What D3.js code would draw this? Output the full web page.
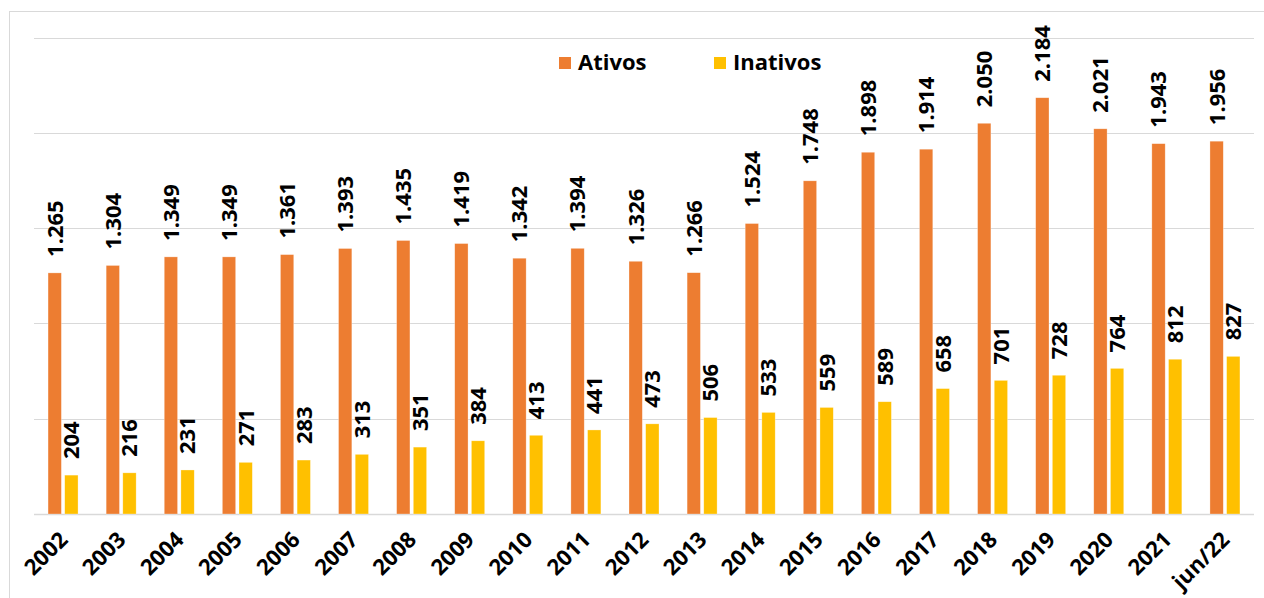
<!DOCTYPE html>
<html>
<head>
<meta charset="utf-8">
<script src="https://cdn.jsdelivr.net/npm/d3@7"></script>
<style>
  body { margin: 0; background: #fff; }
  svg { display: block; font-family: "Open Sans", "Noto Sans", sans-serif; }
</style>
</head>
<body>
<svg></svg>
<script>
const categories = ["2002", "2003", "2004", "2005", "2006", "2007", "2008", "2009", "2010", "2011",
    "2012", "2013", "2014", "2015", "2016", "2017", "2018", "2019", "2020", "2021", "jun/22"];
const ativos = [1265, 1304, 1349, 1349, 1361, 1393, 1435, 1419, 1342, 1394,
    1326, 1266, 1524, 1748, 1898, 1914, 2050, 2184, 2021, 1943, 1956];
const inativos = [204, 216, 231, 271, 283, 313, 351, 384, 413, 441,
    473, 506, 533, 559, 589, 658, 701, 728, 764, 812, 827];
const seriesNames = ["Ativos", "Inativos"];
const yTicks = [0, 500, 1000, 1500, 2000, 2500];

const width = 1264;
const height = 598;
const colors = { Ativos: "#ED7D31", Inativos: "#FFC000" };

const svg = d3.select("svg")
    .attr("width", width)
    .attr("height", height);

// chart area border (only left and top visible in the picture)
svg.append("rect")
    .attr("x", 9.5).attr("y", 11.5)
    .attr("width", width).attr("height", height)
    .attr("fill", "none")
    .attr("stroke", "#d9d9d9");

const x = d3.scaleBand()
    .domain(categories)
    .range([34, 1254]);

const y = d3.scaleLinear()
    .domain([0, 2500])
    .range([514, 37.5]);

const x1 = d3.scaleBand()
    .domain(seriesNames)
    .range([-15, 15])
    .paddingInner(0.2);

// gridlines
svg.append("g")
    .selectAll("line")
    .data(yTicks)
    .enter().append("line")
    .attr("x1", 34).attr("x2", 1254)
    .attr("y1", d => Math.round(y(d)) + 0.5)
    .attr("y2", d => Math.round(y(d)) + 0.5)
    .attr("stroke", "#d9d9d9")
    .attr("stroke-width", d => d === 0 ? 1.5 : 1);

const rows = categories.map((c, i) => ({
    cat: c,
    values: [
        { name: "Ativos", value: ativos[i] },
        { name: "Inativos", value: inativos[i] }
    ]
}));

const groups = svg.append("g")
    .selectAll("g")
    .data(rows)
    .enter().append("g")
    .attr("transform", d => `translate(${x(d.cat) + x.bandwidth() / 2}, 0)`);

groups.selectAll("rect")
    .data(d => d.values)
    .enter().append("rect")
    .attr("x", d => x1(d.name))
    .attr("width", x1.bandwidth())
    .attr("y", d => y(d.value))
    .attr("height", d => y(0) - y(d.value))
    .attr("fill", d => colors[d.name])
    .attr("stroke", "#fff")
    .attr("stroke-opacity", 0.5)
    .attr("stroke-width", 0.6);

// value labels, rotated
const fmt = d3.formatLocale({ decimal: ",", thousands: ".", grouping: [3], currency: ["", ""] }).format(",d");

groups.selectAll("text.val")
    .data(d => d.values)
    .enter().append("text")
    .attr("class", "val")
    .attr("transform", d => `translate(${x1(d.name) + x1.bandwidth() / 2}, ${y(d.value) - 16}) rotate(-90)`)
    .attr("dy", "0.36em")
    .attr("text-anchor", "start")
    .style("font-size", "22px")
    .style("font-weight", "bold")
    .style("fill", "#000")
    .text(d => fmt(d.value));

// x axis labels
svg.append("g")
    .selectAll("text")
    .data(categories)
    .enter().append("text")
    .attr("transform", d => `translate(${x(d) + x.bandwidth() / 2 + 6}, 541) rotate(-45)`)
    .attr("text-anchor", "end")
    .style("font-size", "22px")
    .style("font-weight", "bold")
    .style("fill", "#000")
    .text(d => d);

// legend
const legendX = [559, 714];
const legend = svg.append("g")
    .selectAll("g")
    .data(seriesNames)
    .enter().append("g")
    .attr("transform", (d, i) => `translate(${legendX[i]}, 57)`);

legend.append("rect")
    .attr("width", 12).attr("height", 12)
    .attr("fill", d => colors[d]);

legend.append("text")
    .attr("x", 19).attr("y", 13)
    .style("font-size", "22px")
    .style("font-weight", "bold")
    .style("fill", "#000")
    .text(d => d);
</script>
</body>
</html>
